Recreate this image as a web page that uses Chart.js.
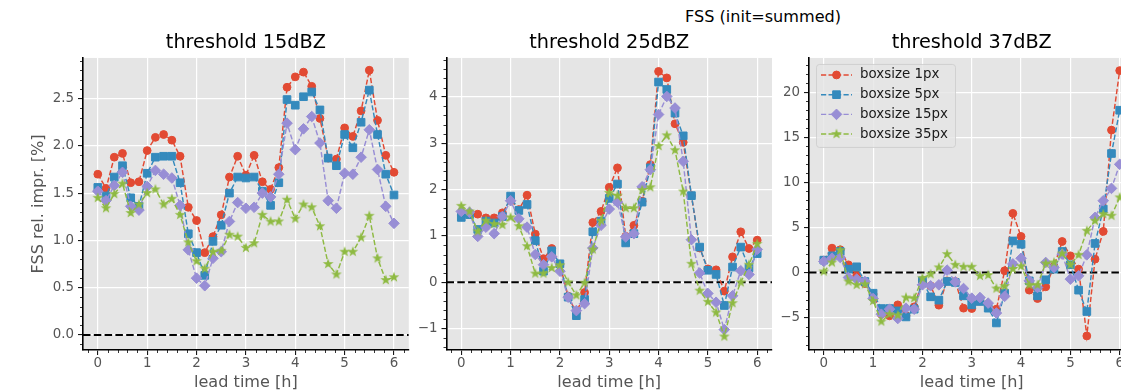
<!DOCTYPE html>
<html>
<head>
<meta charset="utf-8">
<script src="https://cdn.jsdelivr.net/npm/chart.js@4.4.1/dist/chart.umd.min.js"></script>
<style>
  html, body { margin: 0; padding: 0; background: #fff; overflow: hidden; }
  #page { position: relative; width: 1121px; height: 392px; overflow: hidden; }
  .panel { position: absolute; top: 0; }
  #suptitle {
    position: absolute; top: 7px; left: 763px; transform: translateX(-50%);
    font-family: 'DejaVu Sans', sans-serif; font-size: 16.1px; line-height: 20px;
    white-space: nowrap; color: #000;
  }
</style>
</head>
<body>
<div id="page">
  <div id="suptitle">FSS (init=summed)</div>
  <canvas id="chart15" class="panel" width="420" height="392" style="left:0px"></canvas>
  <canvas id="chart25" class="panel" width="370" height="392" style="left:415px"></canvas>
  <canvas id="chart37" class="panel" width="380" height="392" style="left:778px"></canvas>
</div>
<script>
// lead time in minutes, one value every 10 min
const leadTimeMin = [0, 10, 20, 30, 40, 50, 60, 70, 80, 90, 100, 110, 120, 130, 140, 150, 160, 170, 180,
  190, 200, 210, 220, 230, 240, 250, 260, 270, 280, 290, 300, 310, 320, 330, 340, 350, 360];

const seriesLabels = ['boxsize 1px', 'boxsize 5px', 'boxsize 15px', 'boxsize 35px'];
const panelTitles = ['threshold 15dBZ', 'threshold 25dBZ', 'threshold 37dBZ'];

// threshold 15dBZ
const fss15Box1 = [1.70, 1.55, 1.88, 1.92, 1.61, 1.62, 1.95, 2.09, 2.12, 2.06, 1.89, 1.35, 1.21, 0.87, 1.04, 1.27, 1.67, 1.89, 1.69,
  1.90, 1.62, 1.54, 1.77, 2.62, 2.73, 2.78, 2.63, 2.29, 1.87, 1.86, 2.19, 2.10, 2.37, 2.80, 2.27, 1.90, 1.72];
const fss15Box5 = [1.56, 1.47, 1.67, 1.79, 1.45, 1.36, 1.71, 1.88, 1.89, 1.89, 1.61, 1.07, 0.87, 0.63, 0.99, 1.16, 1.50, 1.67, 1.66,
  1.67, 1.52, 1.37, 1.61, 2.49, 2.43, 2.52, 2.57, 2.38, 1.87, 1.79, 2.12, 1.98, 2.25, 2.59, 2.12, 1.70, 1.48];
const fss15Box15 = [1.52, 1.42, 1.58, 1.72, 1.36, 1.32, 1.57, 1.74, 1.70, 1.66, 1.37, 0.90, 0.60, 0.52, 0.81, 0.88, 1.20, 1.40, 1.34,
  1.35, 1.50, 1.46, 1.70, 2.24, 1.96, 2.18, 2.31, 2.03, 1.42, 1.34, 1.71, 1.70, 1.88, 2.17, 1.75, 1.36, 1.18];
const fss15Box35 = [1.45, 1.34, 1.49, 1.60, 1.29, 1.38, 1.50, 1.54, 1.38, 1.44, 1.27, 0.98, 0.78, 0.70, 0.88, 0.89, 1.06, 1.04, 0.92,
  0.97, 1.27, 1.20, 1.20, 1.43, 1.23, 1.38, 1.35, 1.15, 0.75, 0.64, 0.88, 0.88, 1.03, 1.26, 0.81, 0.58, 0.61];

// threshold 25dBZ
const fss25Box1 = [1.45, 1.48, 1.47, 1.39, 1.39, 1.50, 1.78, 1.57, 1.88, 1.04, 0.51, 0.73, 0.38, -0.30, -0.66, -0.22, 1.29, 1.53, 2.05,
  2.47, 0.99, 1.23, 1.75, 2.54, 4.55, 4.41, 3.42, 3.02, 1.87, 0.74, 0.29, 0.27, -0.19, 0.55, 1.09, 0.73, 0.91];
const fss25Box5 = [1.40, 1.46, 1.14, 1.32, 1.28, 1.42, 1.86, 1.55, 1.68, 0.90, 0.24, 0.68, 0.40, -0.32, -0.72, -0.37, 1.09, 1.32, 1.81,
  2.12, 0.85, 1.05, 1.73, 2.47, 4.32, 4.16, 3.65, 3.16, 1.87, 0.76, 0.26, 0.17, -0.50, 0.33, 0.76, 0.31, 0.62];
const fss25Box15 = [1.53, 1.51, 0.99, 1.19, 1.05, 1.42, 1.76, 1.37, 1.19, 0.60, 0.38, 0.55, 0.24, -0.32, -0.61, -0.46, 0.74, 1.23, 1.58,
  1.73, 0.98, 1.05, 2.06, 2.43, 3.62, 4.01, 3.76, 2.61, 0.92, 0.20, -0.24, -0.43, -1.02, -0.29, 0.25, 0.17, 0.71];
const fss25Box35 = [1.65, 1.53, 1.10, 1.33, 1.26, 1.24, 1.40, 1.21, 0.78, 0.19, 0.19, 0.31, 0.37, 0.00, -0.28, -0.01, 0.71, 1.33, 1.93,
  1.87, 1.60, 1.60, 1.99, 2.05, 2.94, 3.17, 2.85, 1.96, 0.40, -0.18, -0.42, -0.65, -1.17, -0.45, 0.00, 0.38, 0.83];

// threshold 37dBZ
const fss37Box1 = [1.37, 2.70, 2.52, 0.85, -0.37, -1.22, -2.40, -4.63, -4.81, -3.59, -4.80, -3.81, -0.93, -1.48, -3.63, -0.93, -1.00, -3.96, -4.00,
  -3.15, -3.81, -4.07, 0.19, 6.56, 4.00, -1.96, -2.89, -1.59, 0.67, 3.44, 1.85, 0.37, -7.04, 1.48, 4.56, 15.8, 22.4];
const fss37Box5 = [1.37, 1.85, 2.33, 0.37, 0.63, -1.00, -2.30, -4.00, -4.00, -4.26, -4.93, -4.07, -0.93, -2.70, -3.07, -1.00, -1.11, -2.59, -3.59,
  -3.22, -3.96, -5.60, -2.30, 3.50, 3.13, -0.93, -2.59, -0.81, 0.37, 2.33, 0.85, -1.96, -4.33, 3.22, 7.04, 13.2, 18.0];
const fss37Box15 = [1.22, 1.59, 1.67, -0.56, -0.74, -1.00, -2.89, -4.63, -4.07, -5.11, -3.96, -4.07, -1.37, -1.48, -1.37, 0.26, -1.04, -1.78, -2.85,
  -2.78, -3.40, -4.50, -2.65, 0.95, 1.58, -0.93, -1.67, 1.11, 0.56, 2.04, -0.74, -0.37, 1.96, 6.11, 7.96, 9.33, 12.0];
const fss37Box35 = [0.11, 1.11, 2.48, -1.00, -1.37, -1.30, -3.15, -5.44, -4.63, -4.74, -2.78, -2.85, -0.63, -0.19, 0.56, 2.04, 0.85, 0.63, 0.63,
  -0.37, -0.28, -1.78, -1.50, 0.40, 0.70, -1.37, -1.37, 1.00, 1.11, 2.11, 0.85, 1.96, 4.63, 5.74, 6.48, 6.30, 8.33];

// axis limits as matplotlib autoscaled them
const xRange = [-0.3, 6.3];
const yRange15 = [-0.16, 2.93];
const yRange25 = [-1.46, 4.84];
const yRange37 = [-8.6, 23.8];

const FONT = "'DejaVu Sans', sans-serif";
const COLORS = ['#E24A33', '#348ABD', '#988ED5', '#8EBA42'];
const RADII = [3.9, 5.4, 5.3, 5.5];

Chart.defaults.font.family = FONT;

function makeStar(color, r) {
  const c = document.createElement('canvas');
  const s = Math.ceil(r * 2 + 2);
  c.width = s;
  c.height = s;
  const g = c.getContext('2d');
  g.fillStyle = color;
  g.beginPath();
  for (let k = 0; k < 10; k++) {
    const rad = k % 2 === 0 ? r : r * 0.4;
    const a = -Math.PI / 2 + k * Math.PI / 5;
    g.lineTo(s / 2 + rad * Math.cos(a), s / 2 + rad * Math.sin(a));
  }
  g.closePath();
  g.fill();
  return c;
}

const MARKERS = ['circle', 'rect', 'rectRot', makeStar(COLORS[3], 5.6)];

function buildDatasets(seriesList) {
  const sets = seriesList.map((vals, k) => ({
    label: seriesLabels[k],
    data: vals.map((v, i) => ({ x: leadTimeMin[i] / 60, y: v })),
    borderColor: COLORS[k],
    backgroundColor: COLORS[k],
    borderWidth: 1.45,
    borderDash: [5.2, 2.3],
    pointStyle: MARKERS[k],
    pointRadius: RADII[k],
    pointBorderWidth: 1,
    pointBackgroundColor: COLORS[k],
    pointBorderColor: COLORS[k],
    order: 4 - k
  }));
  // dashed zero line across the whole axes
  sets.push({
    label: 'zero',
    data: [{ x: xRange[0], y: 0 }, { x: xRange[1], y: 0 }],
    borderColor: '#000',
    borderWidth: 2,
    borderDash: [7.5, 3.3],
    pointRadius: 0,
    order: 10
  });
  return sets;
}

const bgPlugin = {
  id: 'axesBg',
  beforeDraw(chart) {
    const { ctx, chartArea: a } = chart;
    ctx.save();
    ctx.fillStyle = '#E5E5E5';
    ctx.fillRect(a.left, a.top, a.right - a.left, a.bottom - a.top);
    ctx.restore();
  }
};

// short minor tick marks, 5 per major step
function minorTicks(xMajor, yMajor) {
  return {
    id: 'minorTicks',
    afterDraw(chart) {
      const { ctx, chartArea: a } = chart;
      const xs = chart.scales.x, ys = chart.scales.y;
      ctx.save();
      ctx.strokeStyle = '#000';
      ctx.lineWidth = 0.8;
      ctx.beginPath();
      const xStep = xMajor / 5;
      for (let k = Math.ceil(xs.min / xStep - 1e-9); k * xStep <= xs.max + 1e-9; k++) {
        if (k % 5 === 0) continue;
        const px = Math.round(xs.getPixelForValue(k * xStep)) + 0.5;
        ctx.moveTo(px, a.bottom);
        ctx.lineTo(px, a.bottom + 3);
      }
      const yStep = yMajor / 5;
      for (let k = Math.ceil(ys.min / yStep - 1e-9); k * yStep <= ys.max + 1e-9; k++) {
        if (k % 5 === 0) continue;
        const py = Math.round(ys.getPixelForValue(k * yStep)) + 0.5;
        ctx.moveTo(a.left, py);
        ctx.lineTo(a.left - 3, py);
      }
      ctx.stroke();
      ctx.restore();
    }
  };
}

// legend box like matplotlib's upper-left legend
const boxLegend = {
  id: 'boxLegend',
  afterDatasetsDraw(chart) {
    const { ctx, chartArea: a } = chart;
    const x0 = a.left + 7, y0 = a.top + 6, w = 139, h = 83;
    ctx.save();
    ctx.globalAlpha = 0.8;
    ctx.fillStyle = '#E5E5E5';
    ctx.strokeStyle = '#CCCCCC';
    ctx.lineWidth = 1;
    ctx.beginPath();
    ctx.roundRect(x0 + 0.5, y0 + 0.5, w, h, 3);
    ctx.fill();
    ctx.stroke();
    ctx.globalAlpha = 1;
    chart.data.datasets.slice(0, 4).forEach((ds, k) => {
      const y = y0 + 11 + k * 19.7;
      ctx.strokeStyle = ds.borderColor;
      ctx.lineWidth = ds.borderWidth;
      ctx.setLineDash(ds.borderDash);
      ctx.beginPath();
      ctx.moveTo(x0 + 5, y);
      ctx.lineTo(x0 + 36, y);
      ctx.stroke();
      ctx.setLineDash([]);
      ctx.fillStyle = ds.pointBackgroundColor;
      ctx.strokeStyle = ds.pointBorderColor;
      ctx.lineWidth = ds.pointBorderWidth;
      Chart.helpers.drawPoint(ctx, { pointStyle: ds.pointStyle, radius: ds.pointRadius, borderWidth: ds.pointBorderWidth, rotation: 0 }, x0 + 20.5, y);
      ctx.fillStyle = '#1a1a1a';
      ctx.font = '13.4px ' + FONT;
      ctx.textBaseline = 'middle';
      ctx.textAlign = 'left';
      ctx.fillText(ds.label, x0 + 44, y);
    });
    ctx.restore();
  }
};

function fmtTick(digits) {
  return (v) => {
    const s = Number(v).toFixed(digits);
    return v < 0 ? '\u2212' + s.slice(1) : s;
  };
}

function makePanel(canvasId, title, seriesList, yRange, yMajor, yDigits, yWidth, padRight, withYTitle, extraPlugins) {
  const ctx = document.getElementById(canvasId).getContext('2d');
  return new Chart(ctx, {
    type: 'line',
    data: { datasets: buildDatasets(seriesList) },
    options: {
      responsive: false,
      animation: false,
      events: [],
      layout: { padding: { left: 0, right: padRight, top: 0, bottom: 0 } },
      elements: { line: { tension: 0 } },
      plugins: {
        legend: { display: false },
        tooltip: { enabled: false },
        title: {
          display: true,
          text: title,
          color: '#000',
          fullSize: false,
          font: { family: FONT, size: 19.3, weight: 'normal' },
          padding: { top: 31.4, bottom: 3.4 }
        }
      },
      scales: {
        x: {
          type: 'linear',
          min: xRange[0],
          max: xRange[1],
          afterFit: (s) => { s.height = 42; },
          ticks: {
            stepSize: 1, includeBounds: false, padding: 0, maxRotation: 0,
            color: '#555555', font: { family: FONT, size: 13.4 },
            callback: fmtTick(0)
          },
          grid: { color: '#FFFFFF', lineWidth: 1.2, tickColor: '#000', tickLength: 5, tickWidth: 1 },
          border: { display: true, color: '#000', width: 1.6 },
          title: {
            display: true, text: 'lead time [h]', color: '#555555',
            font: { family: FONT, size: 16.1 }, padding: { top: 0, bottom: 0 }
          }
        },
        y: {
          type: 'linear',
          min: yRange[0],
          max: yRange[1],
          afterFit: (s) => { s.width = yWidth; },
          ticks: {
            stepSize: yMajor, includeBounds: false, padding: 4,
            color: '#555555', font: { family: FONT, size: 13.4 },
            callback: fmtTick(yDigits)
          },
          grid: { color: '#FFFFFF', lineWidth: 1.2, tickColor: '#000', tickLength: 5, tickWidth: 1 },
          border: { display: true, color: '#000', width: 1.6 },
          title: {
            display: withYTitle, text: 'FSS rel. impr. [%]', color: '#555555',
            font: { family: FONT, size: 16.1 }, padding: { top: 29.3, bottom: 0 }
          }
        }
      }
    },
    plugins: [bgPlugin, minorTicks(1, yMajor)].concat(extraPlugins)
  });
}

makePanel('chart15', panelTitles[0], [fss15Box1, fss15Box5, fss15Box15, fss15Box35], yRange15, 0.5, 1, 83, 11.2, true, []);
makePanel('chart25', panelTitles[1], [fss25Box1, fss25Box5, fss25Box15, fss25Box35], yRange25, 1, 0, 31.5, 13, false, []);
makePanel('chart37', panelTitles[2], [fss37Box1, fss37Box5, fss37Box15, fss37Box35], yRange37, 5, 0, 31, 23.5, false, [boxLegend]);
</script>
</body>
</html>
